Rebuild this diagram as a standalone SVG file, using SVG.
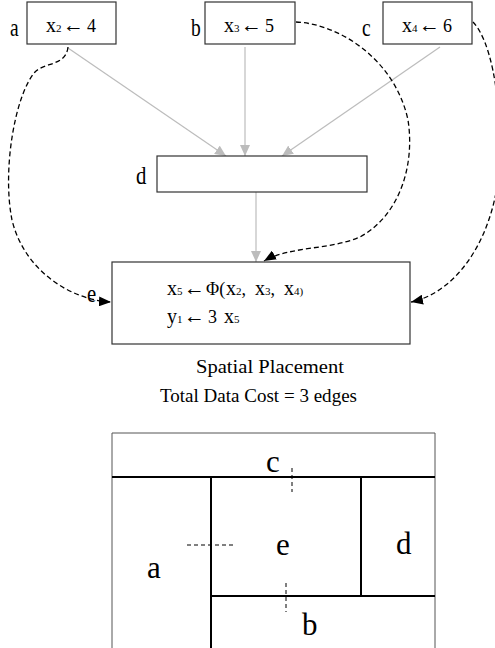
<svg xmlns="http://www.w3.org/2000/svg" width="495" height="648" viewBox="0 0 495 648">
<style>
.box{fill:#fff;stroke:#333;stroke-width:1.2}
.t{font-family:"Liberation Serif","Times New Roman",serif;fill:#000}
.v{font-size:20px}
.sub{font-size:11px}
.ar{font-size:21px}
.num{font-size:18px}
.lbl{font-family:"Liberation Serif","Times New Roman",serif;font-size:26px;fill:#000}
.big{font-family:"Liberation Serif","Times New Roman",serif;font-size:31px;fill:#000}
.gray{fill:none;stroke:#bcbcbc;stroke-width:1.2}
.dash{fill:none;stroke:#000;stroke-width:1.3;stroke-dasharray:5 3}
.thin{fill:none;stroke:#555;stroke-width:1}
.thick{fill:none;stroke:#000;stroke-width:2}
.fdash{fill:none;stroke:#000;stroke-width:1;stroke-dasharray:4 3}
</style>
<defs>
<marker id="ga" markerUnits="userSpaceOnUse" markerWidth="11" markerHeight="10" refX="11" refY="5" orient="auto"><path d="M0,0 L11,5 L0,10 z" fill="#bcbcbc"/></marker>
<marker id="ba" markerUnits="userSpaceOnUse" markerWidth="12" markerHeight="10" refX="12" refY="5" orient="auto"><path d="M0,0 L12,5 L0,10 z" fill="#000"/></marker>
</defs>
<rect width="495" height="648" fill="#fff"/>

<g id="connectors">
<line class="gray" x1="68" y1="48" x2="226" y2="156" marker-end="url(#ga)"/>
<line class="gray" x1="245" y1="47" x2="245" y2="156" marker-end="url(#ga)"/>
<line class="gray" x1="440" y1="47" x2="282" y2="156" marker-end="url(#ga)"/>
<line class="gray" x1="256" y1="192" x2="256" y2="262" marker-end="url(#ga)"/>
<path class="dash" d="M68 47 C66 66 45 62 35 72 C15 95 2 170 12 220 C24 270 70 300 111 302" marker-end="url(#ba)"/>
<path class="dash" d="M296 22 C340 24 395 60 408 120 C415 165 400 215 360 237 C330 250 290 246 264 261" marker-end="url(#ba)"/>
<path class="dash" d="M473 22 C490 40 500 90 500 150 C500 230 460 292 411 302" marker-end="url(#ba)"/>
</g>

<g id="node-a">
<rect class="box" x="27" y="2" width="89" height="42"/>
<text class="lbl" transform="translate(10,36) scale(0.75,1)">a</text>
<text class="t" y="32"><tspan class="v" x="46">x</tspan><tspan class="sub" x="56">2</tspan><tspan class="ar" x="63">←</tspan><tspan class="num" x="87">4</tspan></text>
</g>

<g id="node-b">
<rect class="box" x="205" y="2" width="90" height="42"/>
<text class="lbl" transform="translate(191,36) scale(0.75,1)">b</text>
<text class="t" y="32"><tspan class="v" x="224">x</tspan><tspan class="sub" x="234">3</tspan><tspan class="ar" x="241">←</tspan><tspan class="num" x="265">5</tspan></text>
</g>

<g id="node-c">
<rect class="box" x="383" y="2" width="89" height="42"/>
<text class="lbl" transform="translate(362,36) scale(0.75,1)">c</text>
<text class="t" y="32"><tspan class="v" x="402">x</tspan><tspan class="sub" x="412">4</tspan><tspan class="ar" x="419">←</tspan><tspan class="num" x="443">6</tspan></text>
</g>

<g id="node-d">
<rect class="box" x="157" y="156" width="210" height="36"/>
<text class="lbl" transform="translate(136,184) scale(0.8,1)">d</text>
</g>

<g id="node-e">
<rect class="box" x="112" y="262" width="298" height="82"/>
<text class="lbl" transform="translate(87,302) scale(0.8,1)">e</text>
<text class="t" y="295"><tspan class="v" x="167">x</tspan><tspan class="sub" x="177">5</tspan><tspan class="ar" x="184">←</tspan><tspan class="num" x="206">Φ(</tspan><tspan class="v" x="226">x</tspan><tspan class="sub">2</tspan><tspan class="num">,</tspan><tspan class="v" x="255">x</tspan><tspan class="sub">3</tspan><tspan class="num">,</tspan><tspan class="v" x="284">x</tspan><tspan class="sub">4</tspan><tspan class="sub">)</tspan></text>
<text class="t" y="323"><tspan class="v" x="167">y</tspan><tspan class="sub" x="177">1</tspan><tspan class="ar" x="184">←</tspan><tspan class="num" x="208">3</tspan><tspan class="v" x="224">x</tspan><tspan class="sub">5</tspan></text>
</g>

<g id="captions">
<text class="t" x="196" y="373" font-size="19" textLength="148" lengthAdjust="spacingAndGlyphs">Spatial Placement</text>
<text class="t" x="160" y="402" font-size="19" textLength="197" lengthAdjust="spacingAndGlyphs">Total Data Cost = 3 edges</text>
</g>

<g id="floorplan">
<path class="thin" d="M112 648 L112 433 L435 433 L435 648"/>
<line class="thick" x1="112" y1="477" x2="435" y2="477"/>
<line class="thick" x1="211" y1="477" x2="211" y2="648"/>
<line class="thick" x1="361" y1="477" x2="361" y2="596"/>
<line class="thick" x1="211" y1="596" x2="435" y2="596"/>
<line class="fdash" x1="292" y1="468" x2="292" y2="492"/>
<line class="fdash" x1="187" y1="545" x2="235" y2="545"/>
<line class="fdash" x1="286" y1="583" x2="286" y2="612"/>
<text class="big" x="266" y="472">c</text>
<text class="big" x="276" y="555">e</text>
<text class="big" x="396" y="554">d</text>
<text class="big" x="147" y="578">a</text>
<text class="big" x="302" y="635">b</text>
</g>
</svg>
